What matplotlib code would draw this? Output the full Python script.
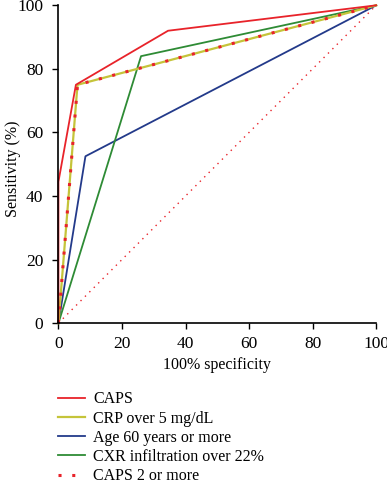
import matplotlib
matplotlib.use("Agg")
import matplotlib.pyplot as plt
from matplotlib.lines import Line2D

plt.rcParams['font.family'] = ['Liberation Serif', 'DejaVu Serif']

# ROC points (100% - specificity, sensitivity)
caps_x = [0, 0, 5.5, 34.5, 100]
caps_y = [0, 44.5, 75, 92, 100]
crp_x = [0, 6, 100]
crp_y = [0, 75, 100]
age_x = [0, 8.5, 100]
age_y = [0, 52.5, 100]
cxr_x = [0, 26, 100]
cxr_y = [0, 84, 100]
caps2_x = [0, 6, 100]
caps2_y = [0, 75, 100]
ref_x = [0, 100]
ref_y = [0, 100]

labels = ['CAPS', 'CRP over 5 mg/dL', 'Age 60 years or more',
          'CXR infiltration over 22%', 'CAPS 2 or more']

red = '#e8232a'
yellow = '#c5c43a'
blue = '#233a8a'
green = '#2e8b35'


def main():
    fig = plt.figure(figsize=(3.87, 4.83), dpi=100)
    ax = fig.add_axes([0.151, 0.331, 0.821, 0.658])

    ax.plot(ref_x, ref_y, color=red, lw=1, linestyle=(0, (1, 3.5)), clip_on=False)
    ax.plot(age_x, age_y, color=blue, lw=1.3, clip_on=False)
    ax.plot(cxr_x, cxr_y, color=green, lw=1.3, clip_on=False)
    ax.plot(crp_x, crp_y, color=yellow, lw=1.6, clip_on=False)
    ax.plot(caps2_x, caps2_y, color=red, lw=2.2, linestyle=(0, (1, 3.5)), clip_on=False)
    ax.plot(caps_x, caps_y, color=red, lw=1.3, clip_on=False)

    ax.set_xlim(0, 100)
    ax.set_ylim(0, 100)
    ax.set_xticks([0, 20, 40, 60, 80, 100])
    ax.set_yticks([0, 20, 40, 60, 80, 100])
    ax.tick_params(labelsize=12.5, direction='out', length=4, width=1)
    ax.tick_params(axis='x', pad=5)
    ax.tick_params(axis='y', pad=7)
    for s in ['top', 'right']:
        ax.spines[s].set_visible(False)
    for s in ['left', 'bottom']:
        ax.spines[s].set_linewidth(1.2)
    ax.set_xlabel('100% specificity', fontsize=11.5, labelpad=4)
    ax.set_ylabel('Sensitivity (%)', fontsize=11.5)
    ax.yaxis.set_label_coords(-0.118, 0.485)

    handles = [
        Line2D([], [], color=red, lw=1.3),
        Line2D([], [], color=yellow, lw=1.6),
        Line2D([], [], color=blue, lw=1.3),
        Line2D([], [], color=green, lw=1.3),
        Line2D([], [], color=red, lw=2.2, linestyle=(0, (1, 3.5))),
    ]
    fig.legend(handles, labels, loc='upper left', bbox_to_anchor=(0.134, 0.203),
               frameon=False, fontsize=11.5, handlelength=1.7, handletextpad=0.5,
               labelspacing=0.2, borderaxespad=0)

    fig.savefig('out.png', dpi=100)


if __name__ == "__main__":
    main()
